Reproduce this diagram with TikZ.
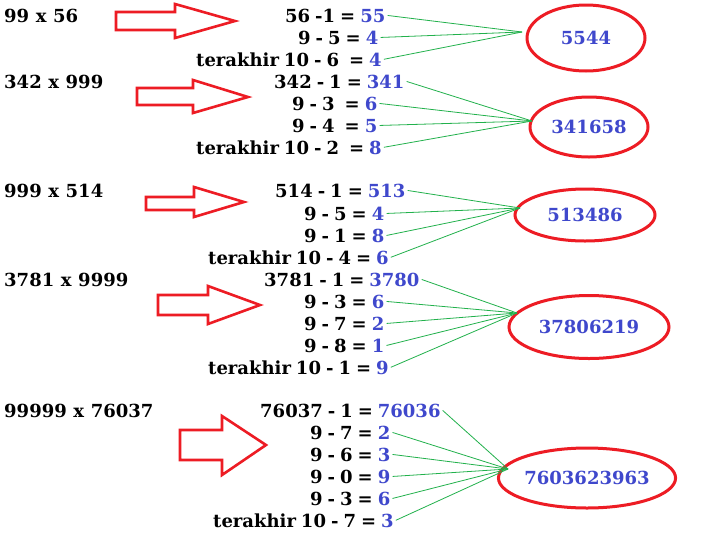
\documentclass[tikz,border=0pt]{standalone}
\usepackage{fontspec}
\setmainfont{DejaVu Serif}
\usetikzlibrary{shapes.geometric}
\definecolor{pred}{RGB}{237,28,36}
\definecolor{pgreen}{RGB}{34,177,76}
\definecolor{nblue}{RGB}{63,72,204}
\newcommand\bnum[1]{\textcolor{nblue}{#1}}
\newcommand\narrowsp{\spaceskip=5.0pt\relax}
\newcommand\widesp{\spaceskip=6.6pt\relax}
\begin{document}
\begin{tikzpicture}[x=1pt,y=-1pt,
  lbl/.style={anchor=base west, inner sep=2pt, font=\fontsize{18}{22}\selectfont\bfseries\widesp},
  txt/.style={anchor=base west, inner sep=2pt, font=\fontsize{18}{22}\selectfont\bfseries\narrowsp},
  res/.style={ellipse, draw=pred, line width=3pt, inner sep=0pt, text=nblue, font=\fontsize{18}{22}\selectfont\bfseries},
  link/.style={draw=pgreen, line width=0.8pt},
  bigarrow/.style={draw=pred, line width=2.6pt, line join=miter}]
\fill[white] (0,0) rectangle (706,552);
\useasboundingbox (0,0) rectangle (706,552);

% left labels
\node[lbl] (la) at (2,22) {99 x 56};
\node[lbl] (lb) at (2,88) {342 x 999};
\node[lbl] (lc) at (2,197) {999 x 514};
\node[lbl] (ld) at (2,286) {3781 x 9999};
\node[lbl] (le) at (2,417) {99999 x 76037};

% arrows
\draw[bigarrow] (116,12) -- (175,12) -- (175,4) -- (235,21) -- (175,38) -- (175,30) -- (116,30) -- cycle;
\draw[bigarrow] (137,88) -- (193,88) -- (193,80) -- (248,97) -- (193,113) -- (193,105) -- (137,105) -- cycle;
\draw[bigarrow] (146,197) -- (194,197) -- (194,187) -- (244,202) -- (194,217) -- (194,210) -- (146,210) -- cycle;
\draw[bigarrow] (158,295) -- (208,295) -- (208,286) -- (260,305) -- (208,324) -- (208,315) -- (158,315) -- cycle;
\draw[bigarrow] (180,430) -- (222,430) -- (222,416) -- (266,445) -- (222,475) -- (222,460) -- (180,460) -- cycle;

% group 1
\node[txt] (a1) at (283,22) {56 -1 = \bnum{55}};
\node[txt] (a2) at (296,44) {9 - 5 = \bnum{4}};
\node[txt] (a3) at (194,66) {terakhir 10 - 6 \ = \bnum{4}};
% group 2
\node[txt] (b1) at (272,88) {342 - 1 = \bnum{341}};
\node[txt] (b2) at (290,110) {9 - 3 \ = \bnum{6}};
\node[txt] (b3) at (290,132) {9 - 4 \ = \bnum{5}};
\node[txt] (b4) at (194,154) {terakhir 10 - 2 \ = \bnum{8}};
% group 3
\node[txt] (c1) at (273,197) {514 - 1 = \bnum{513}};
\node[txt] (c2) at (302,220) {9 - 5 = \bnum{4}};
\node[txt] (c3) at (302,242) {9 - 1 = \bnum{8}};
\node[txt] (c4) at (206,264) {terakhir 10 - 4 = \bnum{6}};
% group 4
\node[txt] (d1) at (262,286) {3781 - 1 = \bnum{3780}};
\node[txt] (d2) at (302,308) {9 - 3 = \bnum{6}};
\node[txt] (d3) at (302,330) {9 - 7 = \bnum{2}};
\node[txt] (d4) at (302,352) {9 - 8 = \bnum{1}};
\node[txt] (d5) at (206,374) {terakhir 10 - 1 = \bnum{9}};
% group 5
\node[txt] (e1) at (258,417) {76037 - 1 = \bnum{76036}};
\node[txt] (e2) at (308,439) {9 - 7 = \bnum{2}};
\node[txt] (e3) at (308,461) {9 - 6 = \bnum{3}};
\node[txt] (e4) at (308,483) {9 - 0 = \bnum{9}};
\node[txt] (e5) at (308,505) {9 - 3 = \bnum{6}};
\node[txt] (e6) at (211,527) {terakhir 10 - 7 = \bnum{3}};

% results
\node[res, minimum width=118pt, minimum height=66pt] (ra) at (586,38) {5544};
\node[res, minimum width=118pt, minimum height=60pt] (rb) at (589,127) {341658};
\node[res, minimum width=140pt, minimum height=52pt] (rc) at (585,215) {513486};
\node[res, minimum width=160pt, minimum height=63pt] (rd) at (589,327) {37806219};
\node[res, minimum width=168pt, minimum height=60pt] (re) at (587,478) {7603623963};

% convergence points
\coordinate (ca) at (522,32);
\coordinate (cb) at (532,121);
\coordinate (cc) at (520,208);
\coordinate (cd) at (517,313);
\coordinate (ce) at (508,469);

\foreach \n in {a1,a2,a3} \draw[link] (\n.east) -- (ca);
\foreach \n in {b1,b2,b3,b4} \draw[link] (\n.east) -- (cb);
\foreach \n in {c1,c2,c3,c4} \draw[link] (\n.east) -- (cc);
\foreach \n in {d1,d2,d3,d4,d5} \draw[link] (\n.east) -- (cd);
\foreach \n in {e1,e2,e3,e4,e5,e6} \draw[link] (\n.east) -- (ce);
\end{tikzpicture}
\end{document}
